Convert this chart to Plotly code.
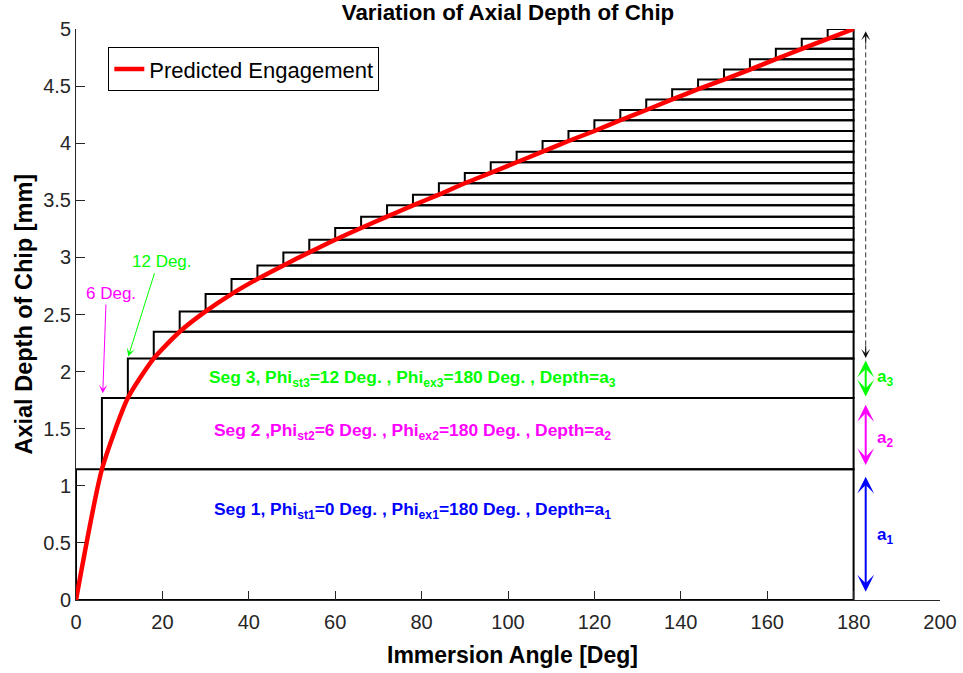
import plotly.graph_objects as go

# Segment entry angles (deg) and the top depth of each segment box (mm)
phi_start = [0, 6, 12, 18, 24, 30, 36, 42, 48, 54, 60, 66, 72, 78, 84,
             90, 96, 102, 108, 114, 120, 126, 132, 138, 144, 150, 156, 162, 168, 174]
phi_exit = 180
seg_top = [1.145, 1.768, 2.115, 2.349, 2.527, 2.679, 2.811, 2.930, 3.044, 3.155,
           3.258, 3.357, 3.456, 3.549, 3.649, 3.740, 3.833, 3.926, 4.019, 4.107,
           4.201, 4.291, 4.383, 4.473, 4.557, 4.645, 4.736, 4.826, 4.914, 5.000]

# Predicted engagement curve: depth reached at each segment's end angle
curve_phi = [0, 6, 12, 18, 24, 30, 36, 42, 48, 54, 60, 66, 72, 78, 84, 90,
             96, 102, 108, 114, 120, 126, 132, 138, 144, 150, 156, 162, 168, 174, 180]
curve_depth = [0.0] + seg_top

x_ticks = [0, 20, 40, 60, 80, 100, 120, 140, 160, 180, 200]

FONT = "Arial, Liberation Sans, sans-serif"
AX = "#262626"

# Build the stacked segment rectangles as one path
bx, by = [], []
bottom = 0.0
for st, top in zip(phi_start, seg_top):
    bx += [st, phi_exit, phi_exit, st, st, None]
    by += [bottom, bottom, top, top, bottom, None]
    bottom = top

fig = go.Figure()
fig.add_trace(go.Scatter(x=bx, y=by, mode="lines", line=dict(color="black", width=2),
                         showlegend=False, hoverinfo="skip", cliponaxis=False))
fig.add_trace(go.Scatter(x=curve_phi, y=curve_depth, mode="lines",
                         line=dict(color="#ff0000", width=4.5, shape="spline", smoothing=0.6),
                         name="Predicted Engagement", cliponaxis=False))

# Dashed guide for the remaining depth
arrow_x = 182.8
fig.add_trace(go.Scatter(x=[arrow_x, arrow_x], y=[2.16, 4.94], mode="lines",
                         line=dict(color="#333333", width=1, dash="5px,3px"),
                         showlegend=False, hoverinfo="skip"))

ann = []


def dbl_arrow(y0, y1, color, width=2, size=1.4):
    ann.append(dict(x=arrow_x, y=y1, ax=arrow_x, ay=y0, xref="x", yref="y",
                    axref="x", ayref="y", text="", showarrow=True,
                    arrowhead=3, startarrowhead=3, arrowside="end+start",
                    arrowsize=size, startarrowsize=size, arrowwidth=width,
                    arrowcolor=color, standoff=0, startstandoff=0))


dbl_arrow(0.06, 1.08, "#0000ff")
dbl_arrow(1.168, 1.709, "#ff00ff")
dbl_arrow(1.768, 2.097, "#00ff00")

# Heads of the dashed guide
ann.append(dict(x=arrow_x, y=4.98, ax=0, ay=14, xref="x", yref="y", text="",
                showarrow=True, arrowhead=3, arrowsize=1.5, arrowwidth=1,
                arrowcolor="#111111", standoff=0))
ann.append(dict(x=arrow_x, y=2.118, ax=0, ay=-14, xref="x", yref="y", text="",
                showarrow=True, arrowhead=3, arrowsize=1.5, arrowwidth=1,
                arrowcolor="#111111", standoff=0))

# Depth labels
for txt, y, c in [("a<sub>1</sub>", 0.56, "#0000ff"),
                  ("a<sub>2</sub>", 1.41, "#ff00ff"),
                  ("a<sub>3</sub>", 1.94, "#00ff00")]:
    ann.append(dict(x=187.2, y=y, xref="x", yref="y", text="<b>" + txt + "</b>",
                    showarrow=False, font=dict(family=FONT, size=17, color=c)))

# Segment descriptions
seg_labels = [
    ("Seg 1, Phi<sub>st1</sub>=0 Deg. , Phi<sub>ex1</sub>=180 Deg. , Depth=a<sub>1</sub>", 0.78, "#0000ff"),
    ("Seg 2 ,Phi<sub>st2</sub>=6 Deg. , Phi<sub>ex2</sub>=180 Deg. , Depth=a<sub>2</sub>", 1.475, "#ff00ff"),
    ("Seg 3, Phi<sub>st3</sub>=12 Deg. , Phi<sub>ex3</sub>=180 Deg. , Depth=a<sub>3</sub>", 1.94, "#00ff00"),
]
for txt, y, c in seg_labels:
    ann.append(dict(x=78, y=y, xref="x", yref="y", text="<b>" + txt + "</b>",
                    showarrow=False, font=dict(family=FONT, size=17.4, color=c)))

# Entry-angle callouts
ann.append(dict(x=8.2, y=2.68, xref="x", yref="y", text="6 Deg.", showarrow=False,
                font=dict(family=FONT, size=17, color="#ff00ff")))
ann.append(dict(x=6.2, y=1.81, ax=6.94, ay=2.60, xref="x", yref="y", axref="x", ayref="y",
                text="", showarrow=True, arrowhead=3, arrowsize=1.4, arrowwidth=1,
                arrowcolor="#ff00ff", standoff=0))
ann.append(dict(x=19.8, y=2.96, xref="x", yref="y", text="12 Deg.", showarrow=False,
                font=dict(family=FONT, size=17, color="#00ff00")))
ann.append(dict(x=12.1, y=2.132, ax=18.28, ay=2.875, xref="x", yref="y", axref="x", ayref="y",
                text="", showarrow=True, arrowhead=3, arrowsize=1.4, arrowwidth=1,
                arrowcolor="#00ff00", standoff=0))

# Axis titles
ann.append(dict(x=0.5, y=0, xref="paper", yref="paper", yshift=-55, xshift=4,
                yanchor="middle", text="<b>Immersion Angle [Deg]</b>", showarrow=False,
                font=dict(family=FONT, size=23, color="black")))
ann.append(dict(x=-0.0613, y=0.5, xref="paper", yref="paper", xanchor="center",
                yanchor="middle", textangle=-90, text="<b>Axial Depth of Chip [mm]</b>",
                showarrow=False, font=dict(family=FONT, size=23.5, color="black")))

fig.update_layout(
    width=963, height=673,
    margin=dict(l=76, r=23, t=29, b=73),
    paper_bgcolor="white", plot_bgcolor="white",
    font=dict(family=FONT, size=20, color=AX),
    title=dict(text="<b>Variation of Axial Depth of Chip</b>", x=0.5, xref="paper",
               y=1 - 12 / 673, yref="container", yanchor="middle", xanchor="center",
               font=dict(family=FONT, size=22.3, color="black")),
    xaxis=dict(range=[0, 200], tickvals=x_ticks, ticks="inside", ticklen=9,
               tickcolor=AX, showline=True, linecolor=AX, linewidth=1,
               showgrid=False, zeroline=False, mirror=False, ticklabelstandoff=4,
               automargin=False, tickfont=dict(family=FONT, size=20, color=AX)),
    yaxis=dict(range=[0, 5], dtick=0.5, ticks="inside", ticklen=9,
               tickcolor=AX, showline=True, linecolor=AX, linewidth=1,
               showgrid=False, zeroline=False, mirror=False, automargin=False,
               tickfont=dict(family=FONT, size=20, color=AX)),
    legend=dict(x=0.0374, y=0.968, xanchor="left", yanchor="top",
                bgcolor="white", bordercolor="black", borderwidth=1,
                font=dict(family=FONT, size=22, color="black")),
    annotations=ann,
)

fig.write_html("out.html")
